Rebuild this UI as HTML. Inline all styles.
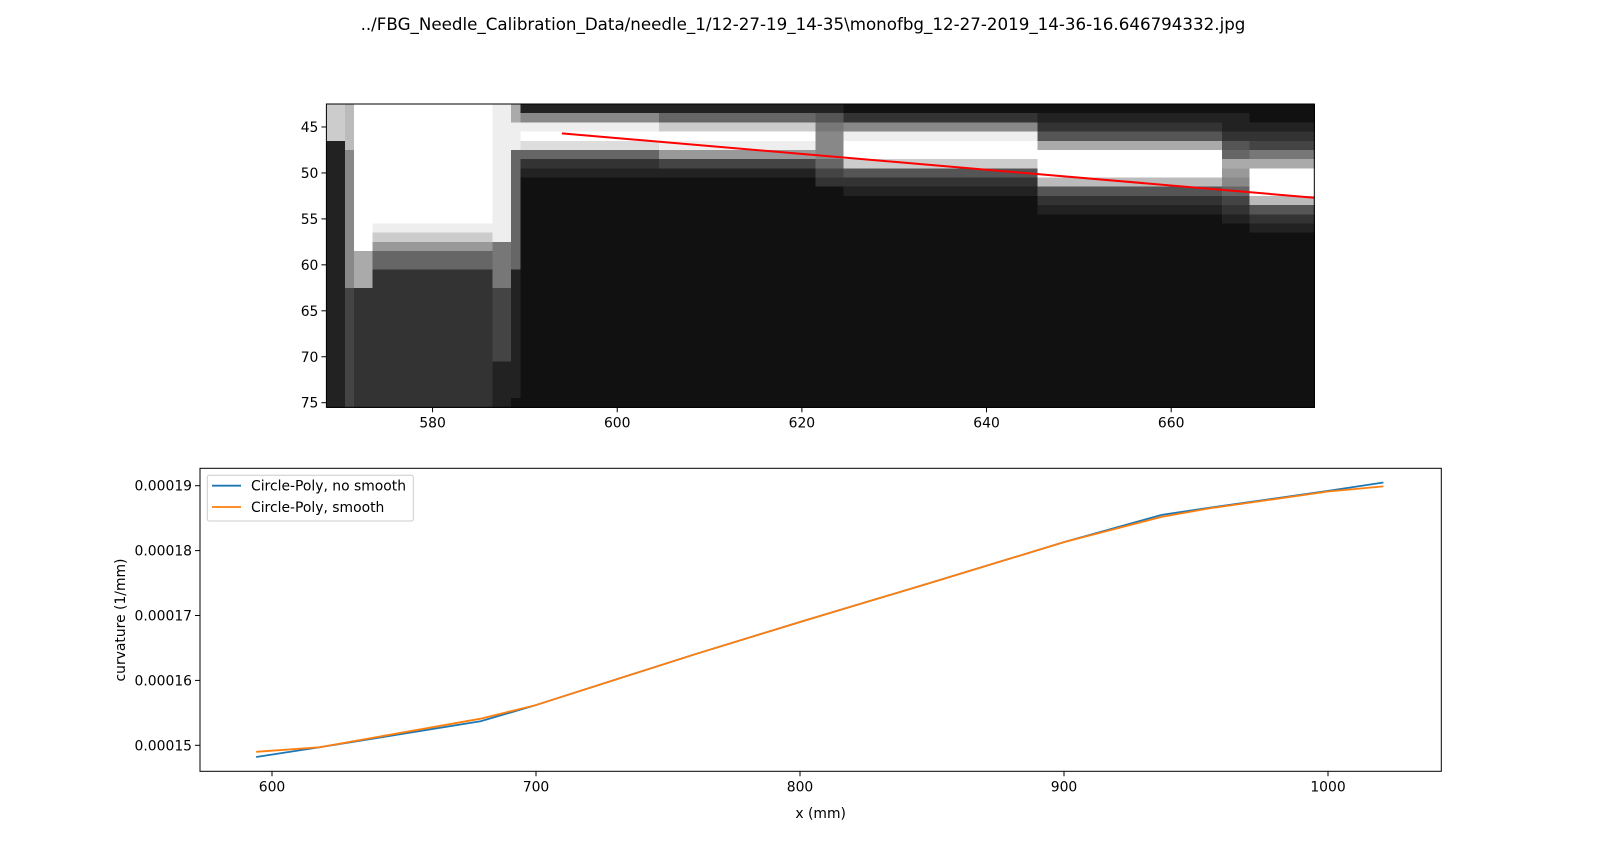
<!DOCTYPE html>
<html><head><meta charset="utf-8"><style>
html,body{margin:0;padding:0;background:#fff;}
svg{display:block;font-family:"DejaVu Sans","Liberation Sans",sans-serif;}
</style></head><body>
<svg id="fig" width="1600" height="866" viewBox="0 0 1600 866" xmlns="http://www.w3.org/2000/svg">
<text x="803" y="30" text-anchor="middle" font-size="16.7" fill="#000">../FBG_Needle_Calibration_Data/needle_1/12-27-19_14-35\monofbg_12-27-2019_14-36-16.646794332.jpg</text>
<g id="topPanel"></g>
<g id="botPanel"></g>
</svg>
<script>
// ---------- image panel data ----------
const imgColStart = 569;
const imgRowStart = 43;
const groupCols = [2,1,2,13,2,1,15,17,3,21,20,3,7];
const groupRows = [
"cccc22222222222222222222222222222",
"bbbbb8888888888888884444444444444",
"ffffffffffffffffaaaa3333333333333",
"fffffffffffffec966333333333333333",
"eeeeeeeeeeeeeee777774444444422222",
"aaeee666666666666622222222222222",
"28efd632111111111111111111111111",
"26cfe942111111111111111111111111",
"257888643111111111111111111111111",
"138effc5321111111111111111111111",
"1235afffb53211111111111111111111",
"122356a98643211111111111111111111",
"112347afffb532111111111111111111"
];
const redX = [594, 675.5];
const redY = [45.7, 52.7];
const topXTicks = [580, 600, 620, 640, 660];
const topYTicks = [45, 50, 55, 60, 65, 70, 75];

// ---------- curve data ----------
const xNoSmooth = [594, 618, 679, 700, 760, 800, 850, 900, 937, 955, 1000, 1021];
const kNoSmooth = [1.482e-4, 1.497e-4, 1.537e-4, 1.562e-4, 1.640e-4, 1.690e-4, 1.751e-4, 1.813e-4, 1.855e-4, 1.866e-4, 1.892e-4, 1.905e-4];
const xSmooth = [594, 618, 679, 700, 760, 800, 850, 900, 937, 955, 1000, 1021];
const kSmooth = [1.490e-4, 1.497e-4, 1.541e-4, 1.562e-4, 1.640e-4, 1.690e-4, 1.751e-4, 1.813e-4, 1.852e-4, 1.865e-4, 1.891e-4, 1.899e-4];
const botXTicks = [600, 700, 800, 900, 1000];
const botYTicks = [0.00015, 0.00016, 0.00017, 0.00018, 0.00019];
const botYLabels = ["0.00015", "0.00016", "0.00017", "0.00018", "0.00019"];

const NS = "http://www.w3.org/2000/svg";
function mk(tag, attrs, parent){const e=document.createElementNS(NS,tag);for(const k in attrs)e.setAttribute(k,attrs[k]);parent.appendChild(e);return e;}

// ---------- top panel ----------
const T = {l:326.4, r:1314.3, t:104, b:407.3};
const x0 = 568.5, x1 = 675.5, y0 = 42.5, y1 = 75.5;
const tx = v => T.l + (v - x0) / (x1 - x0) * (T.r - T.l);
const ty = v => T.t + (v - y0) / (y1 - y0) * (T.b - T.t);
const topG = document.getElementById('topPanel');
const cells = mk('g', {'shape-rendering':'crispEdges'}, topG);


let col = imgColStart;
groupCols.forEach((w, gi) => {
  const s = groupRows[gi].padEnd(33, '1');
  for (let r = 0; r < 33; r++) {
    const v = parseInt(s[r], 16);
    const g = Math.max(14, v * 17);
    const rc = mk('rect', {x: tx(col - 0.5), y: ty(imgRowStart + r - 0.5), width: tx(col + w - 0.5) - tx(col - 0.5) + 0.5, height: ty(imgRowStart + r + 0.5) - ty(imgRowStart + r - 0.5) + 0.5, fill: `rgb(${g},${g},${g})`}, cells);
    
    
  }
  col += w;
});
const red = mk('polyline', {points: redX.map((x, i) => tx(x) + ',' + ty(redY[i])).join(' '), fill: 'none', stroke: '#ff0000', 'stroke-width': 2}, topG);


const tf = mk('rect', {x: T.l, y: T.t, width: T.r - T.l, height: T.b - T.t, fill: 'none', stroke: '#000', 'stroke-width': 1}, topG);


topXTicks.forEach(v => {
  mk('line', {x1: tx(v), x2: tx(v), y1: T.b, y2: T.b + 5, stroke: '#000'}, topG);
  const t = mk('text', {x: tx(v), y: T.b + 20, 'text-anchor': 'middle', 'font-size': 13.9}, topG);
  t.textContent = v;
  
  
});
topYTicks.forEach(v => {
  mk('line', {x1: T.l - 5, x2: T.l, y1: ty(v), y2: ty(v), stroke: '#000'}, topG);
  const t = mk('text', {x: T.l - 8, y: ty(v) + 5, 'text-anchor': 'end', 'font-size': 13.9}, topG);
  t.textContent = v;
  
  
});

// ---------- bottom panel ----------
const B = {l:200, r:1441.3, t:468.3, b:771.3};
const bx = v => 272 + (v - 600) * 2.64;
const by = v => 485.7 + (0.00019 - v) * 6.49e6;
const botG = document.getElementById('botPanel');
const bf = mk('rect', {x: B.l, y: B.t, width: B.r - B.l, height: B.b - B.t, fill: '#fff', stroke: '#000', 'stroke-width': 1}, botG);


const l1 = mk('polyline', {points: xNoSmooth.map((x, i) => bx(x) + ',' + by(kNoSmooth[i])).join(' '), fill: 'none', stroke: '#1f77b4', 'stroke-width': 1.8}, botG);


const l2 = mk('polyline', {points: xSmooth.map((x, i) => bx(x) + ',' + by(kSmooth[i])).join(' '), fill: 'none', stroke: '#ff7f0e', 'stroke-width': 1.8}, botG);


botXTicks.forEach(v => {
  mk('line', {x1: bx(v), x2: bx(v), y1: B.b, y2: B.b + 5, stroke: '#000'}, botG);
  const t = mk('text', {x: bx(v), y: B.b + 20, 'text-anchor': 'middle', 'font-size': 13.9}, botG);
  t.textContent = v;
  
  
});
botYTicks.forEach((v, i) => {
  mk('line', {x1: B.l - 5, x2: B.l, y1: by(v), y2: by(v), stroke: '#000'}, botG);
  const t = mk('text', {x: B.l - 8, y: by(v) + 5, 'text-anchor': 'end', 'font-size': 13.9}, botG);
  t.textContent = botYLabels[i];
  
  
});
const xl = mk('text', {x: (B.l + B.r) / 2, y: 818, 'text-anchor': 'middle', 'font-size': 13.9}, botG);
xl.textContent = 'x (mm)';


const yl = mk('text', {x: 0, y: 0, 'text-anchor': 'middle', 'font-size': 13.9, transform: 'translate(125,620) rotate(-90)'}, botG);
yl.textContent = 'curvature (1/mm)';


const leg = mk('g', {}, botG);


mk('rect', {x: 207.3, y: 475.3, width: 206, height: 45.7, rx: 2, fill: '#fff', 'fill-opacity': 0.8, stroke: '#ccc'}, leg);
[['Circle-Poly, no smooth', '#1f77b4', 485.7], ['Circle-Poly, smooth', '#ff7f0e', 507]].forEach(([lab, c, y]) => {
  mk('line', {x1: 212, x2: 241, y1: y, y2: y, stroke: c, 'stroke-width': 1.8}, leg);
  const t = mk('text', {x: 251, y: y + 5, 'font-size': 13.9}, leg);
  t.textContent = lab;
  
  
});
</script>
</body></html>
